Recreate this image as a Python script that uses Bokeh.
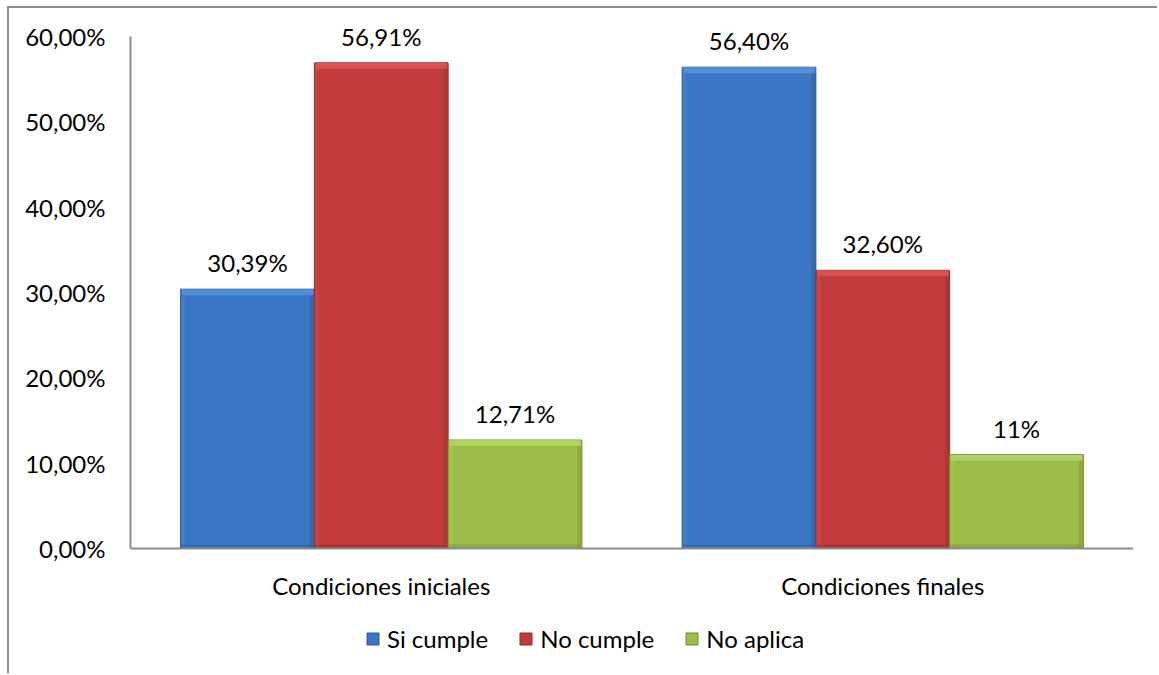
from bokeh.plotting import figure
from bokeh.models import (FactorRange, Range1d, Legend, LegendItem,
                          ColumnDataSource, FixedTicker)
from bokeh.transform import dodge
from bokeh.embed import file_html
from bokeh.resources import INLINE

# Data
categories = ["Condiciones iniciales", "Condiciones finales"]
series = ["Si cumple", "No cumple", "No aplica"]
si_cumple = [30.39, 56.40]
no_cumple = [56.91, 32.60]
no_aplica = [12.71, 11.0]
y_ticks = [0, 10, 20, 30, 40, 50, 60]

values = {"Si cumple": si_cumple, "No cumple": no_cumple, "No aplica": no_aplica}
fill = {"Si cumple": "#3a76c4", "No cumple": "#c03b3a", "No aplica": "#9abd4a"}
light = {"Si cumple": "#5b95dc", "No cumple": "#dc5a58", "No aplica": "#b6d769"}
dark = {"Si cumple": "#2a5790", "No cumple": "#8e2a2a", "No aplica": "#6f8a32"}

FONT = "Lato"
FONT_SIZE = "24px"
AXIS_COLOR = "#8c8c8c"

# The plot frame fills the whole canvas height; the x axis is pinned at y = 0
# and the y axis line stops at 60 %, leaving room for value labels above the
# tallest bars and for the legend below the category labels.
HEIGHT = 667
PX_PER_UNIT = 512 / 60.0
ZERO_FROM_TOP = 540
y_end = ZERO_FROM_TOP / PX_PER_UNIT
y_start = -(HEIGHT - ZERO_FROM_TOP) / PX_PER_UNIT


def pct_label(v):
    if float(v).is_integer():
        return f"{int(v)}%"
    return f"{v:.2f}".replace(".", ",") + "%"


p = figure(
    x_range=FactorRange(*categories, range_padding=0),
    y_range=Range1d(y_start, y_end),
    width=1150, height=HEIGHT,
    output_backend="svg", toolbar_location=None,
    min_border_left=121, min_border_right=26,
    min_border_top=0, min_border_bottom=0,
)
p.margin = (6, 0, 0, 7)
p.styles = {"border-left": f"2px solid {AXIS_COLOR}",
            "border-top": f"2px solid {AXIS_COLOR}"}
p.outline_line_color = None
p.xgrid.grid_line_color = None
p.ygrid.grid_line_color = None
p.background_fill_color = "white"
p.border_fill_color = "white"

bar_w = 0.2667
offsets = [-bar_w, 0.0, bar_w]
px_y = 1 / PX_PER_UNIT   # one pixel in y data units
px_x = 2 / 1003.0        # one pixel in x data units

legend_items = []
for name, off in zip(series, offsets):
    vals = values[name]
    src = ColumnDataSource(dict(
        cat=categories, top=vals,
        bevel_bottom=[v - 6 * px_y for v in vals],
        label=[pct_label(v) for v in vals],
    ))
    xs = dodge("cat", off, range=p.x_range)
    r = p.vbar(x=xs, top="top", bottom=0,
               width=bar_w, source=src, fill_color=fill[name],
               line_color=dark[name], line_width=1)
    # bevel: lighter band at the top, darker strips right and bottom,
    # lighter strip on the left
    p.vbar(x=xs, top="top", bottom="bevel_bottom",
           width=bar_w - 2 * px_x, source=src, fill_color=light[name],
           fill_alpha=0.8, line_color=None)
    p.vbar(x=dodge("cat", off + bar_w / 2 - 2.5 * px_x, range=p.x_range),
           top="bevel_bottom", bottom=0, width=4 * px_x, source=src,
           fill_color=dark[name], fill_alpha=0.35, line_color=None)
    p.vbar(x=dodge("cat", off - bar_w / 2 + 2.5 * px_x, range=p.x_range),
           top="bevel_bottom", bottom=0, width=4 * px_x, source=src,
           fill_color=light[name], fill_alpha=0.25, line_color=None)
    p.vbar(x=xs, top=4 * px_y, bottom=0, width=bar_w - 2 * px_x, source=src,
           fill_color=dark[name], fill_alpha=0.35, line_color=None)
    p.text(x=xs, y="top", text="label",
           source=src, text_align="center", text_baseline="bottom",
           y_offset=-12, text_font_size=FONT_SIZE, text_color="#000000",
           text_font={"value": FONT})
    legend_items.append(LegendItem(label=name, renderers=[r]))

# Axes
p.xaxis.fixed_location = 0
p.yaxis.ticker = FixedTicker(ticks=y_ticks)
p.yaxis.bounds = (0, 60)
p.yaxis.major_label_overrides = {t: f"{t:.2f}".replace(".", ",") + "%" for t in y_ticks}
for ax in (p.xaxis, p.yaxis):
    ax.axis_line_color = AXIS_COLOR
    ax.axis_line_width = 2
    ax.major_tick_line_color = None
    ax.minor_tick_line_color = None
    ax.major_label_text_font = FONT
    ax.major_label_text_font_size = FONT_SIZE
    ax.major_label_text_color = "#000000"
p.yaxis.major_label_standoff = 19
p.xaxis.major_label_standoff = 16

legend = Legend(items=legend_items, orientation="horizontal",
                location=(235, 22), padding=0, margin=0, spacing=30,
                glyph_width=15, glyph_height=15, label_standoff=7,
                label_text_font=FONT, label_text_font_size=FONT_SIZE,
                label_text_color="#000000", border_line_color=None,
                background_fill_alpha=0)
p.add_layout(legend, "center")

open("out.html", "w").write(file_html(p, INLINE))
